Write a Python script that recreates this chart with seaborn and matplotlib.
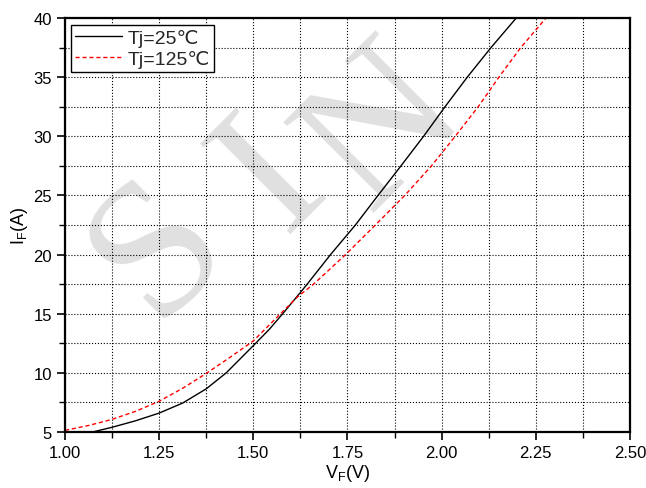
import pandas as pd
import matplotlib.pyplot as plt
import seaborn as sns
from matplotlib.ticker import MultipleLocator

sns.set_theme(style="white")
plt.rcParams['font.family'] = ['Liberation Sans', 'DejaVu Sans']

# Curvas de I_F x V_F
vf_25 = [1.073, 1.125, 1.1875, 1.25, 1.3125, 1.375, 1.428, 1.5, 1.543, 1.578,
         1.625, 1.643, 1.705, 1.771, 1.831, 1.892, 1.952, 2.009, 2.068, 2.131, 2.198]
if_25 = [5.0, 5.4, 5.95, 6.6, 7.45, 8.65, 10.0, 12.3, 13.7, 15.0,
         16.8, 17.5, 20.0, 22.5, 25.0, 27.5, 30.0, 32.5, 35.0, 37.5, 40.0]

vf_125 = [1.0, 1.0625, 1.125, 1.1875, 1.25, 1.3125, 1.375, 1.4375, 1.5, 1.569,
          1.618, 1.66, 1.745, 1.824, 1.902, 1.973, 2.036, 2.097, 2.152, 2.21, 2.277]
if_125 = [5.14, 5.55, 6.07, 6.75, 7.6, 8.7, 9.95, 11.3, 12.7, 14.9,
          16.44, 17.5, 20.0, 22.5, 25.0, 27.5, 30.0, 32.5, 35.0, 37.5, 40.0]

labels = ['Tj=25℃', 'Tj=125℃']
x_ticks = [1.00, 1.25, 1.50, 1.75, 2.00, 2.25, 2.50]
y_ticks = [5, 10, 15, 20, 25, 30, 35, 40]

df_25 = pd.DataFrame({'VF': vf_25, 'IF': if_25})
df_125 = pd.DataFrame({'VF': vf_125, 'IF': if_125})

fig = plt.figure(figsize=(6.46, 4.89), dpi=100)
ax = fig.add_axes([0.1006, 0.1145, 0.8746, 0.8466])

# marca d'água (letras separadas, bem clarinhas)
for letra, (px, py) in zip('SIN', [(160, 250), (274, 178), (385, 130)]):
    fig.text(px / 646, 1 - py / 489, letra, rotation=45, fontsize=140,
             family='Liberation Serif', color='#e0e0e0', ha='center', va='center',
             zorder=-5)
ax.set_facecolor('none')

sns.lineplot(data=df_25, x='VF', y='IF', ax=ax, color='black', linewidth=1.0,
             label=labels[0], sort=False)
sns.lineplot(data=df_125, x='VF', y='IF', ax=ax, color='red', linewidth=1.0,
             linestyle=(0, (3, 2)), label=labels[1], sort=False)

ax.set_xlim(1.0, 2.5)
ax.set_ylim(5, 40)
ax.set_xticks(x_ticks)
ax.set_xticklabels([f'{v:.2f}' for v in x_ticks])
ax.set_yticks(y_ticks)
ax.xaxis.set_minor_locator(MultipleLocator(0.125))
ax.yaxis.set_minor_locator(MultipleLocator(2.5))

ax.grid(True, which='both', color='black', linestyle=':', linewidth=0.8)
ax.tick_params(axis='both', which='major', direction='out', length=6, width=1.2,
               labelsize=12, color='black', labelcolor='black', bottom=True, left=True)
ax.tick_params(axis='both', which='minor', direction='out', length=4, width=1.0,
               color='black', bottom=True, left=True)
for s in ax.spines.values():
    s.set_color('black')
    s.set_linewidth(1.6)

ax.set_xlabel('V$_\\mathregular{F}$(V)', fontsize=13, labelpad=1, color='black')
ax.set_ylabel('I$_\\mathregular{F}$(A)', fontsize=13, labelpad=2, color='black')

leg = ax.legend(loc='upper left', bbox_to_anchor=(0.0106, 0.983), borderaxespad=0,
                fontsize=14, handlelength=2.4, frameon=True, fancybox=False,
                borderpad=0.2, labelspacing=0.15, handletextpad=0.3)
leg.get_frame().set_edgecolor('black')
leg.get_frame().set_linewidth(1.0)
leg.get_frame().set_alpha(1)

plt.savefig('out.png', dpi=100)
plt.close()
